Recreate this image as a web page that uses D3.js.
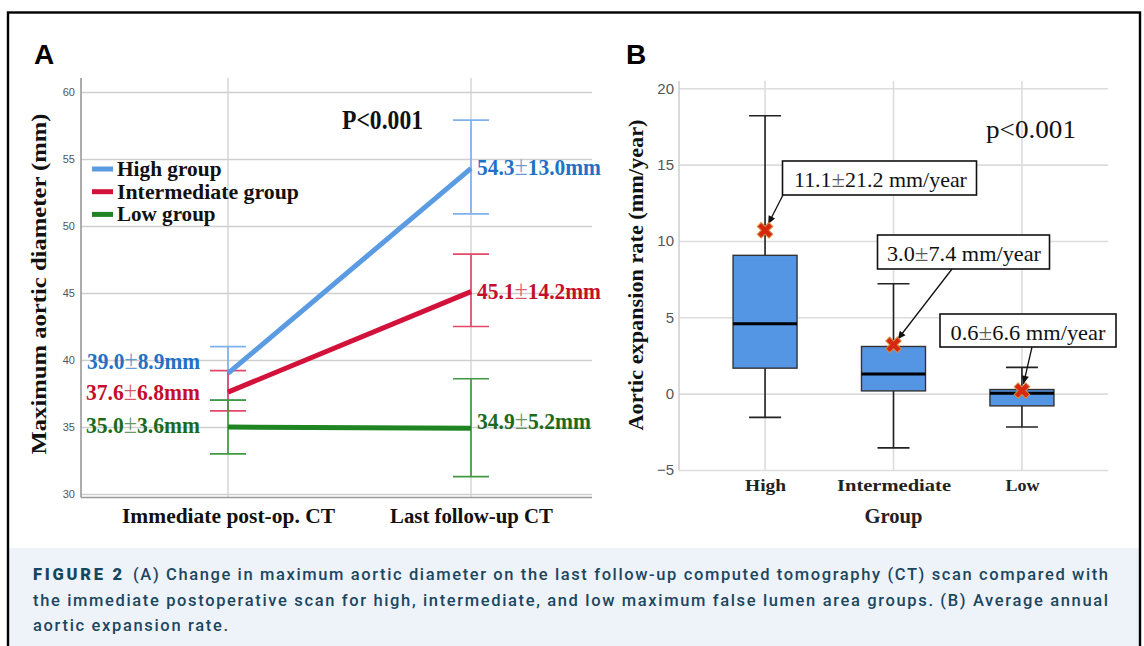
<!DOCTYPE html>
<html>
<head>
<meta charset="utf-8">
<script src="https://cdnjs.cloudflare.com/ajax/libs/d3/7.8.5/d3.min.js"></script>
<style>
  body { margin: 0; background: #fff; }
  svg { display: block; }
</style>
</head>
<body>
<svg id="figure" width="1144" height="646"></svg>
<script>
// ---- panel A data : mean diameter with 95% CI ----
var timePoints  = ["Immediate post-op. CT", "Last follow-up CT"];
var seriesNames = ["High group", "Intermediate group", "Low group"];

var highMean  = [39.0, 54.3];
var highLo    = [37.0, 50.9];
var highHi    = [41.0, 57.9];
var highSD    = ["8.9", "13.0"];

var interMean = [37.6, 45.1];
var interLo   = [36.2, 42.5];
var interHi   = [39.2, 47.9];
var interSD   = ["6.8", "14.2"];

var lowMean   = [35.0, 34.9];
var lowLo     = [33.0, 31.3];
var lowHi     = [37.0, 38.6];
var lowSD     = ["3.6", "5.2"];

var diamTicks = [30, 35, 40, 45, 50, 55, 60];

// ---- panel B data : annual expansion rate boxplot ----
var groups      = ["High", "Intermediate", "Low"];
var whiskerLow  = [-1.55, -3.55, -2.18];
var quart1      = [1.67, 0.18, -0.80];
var medians     = [4.58, 1.29, 0.03];
var quart3      = [9.06, 3.09, 0.27];
var whiskerHigh = [18.2, 7.2, 1.72];
var meanMarks   = [10.7, 3.2, 0.2];
var rateMean    = ["11.1", "3.0", "0.6"];
var rateSD      = ["21.2", "7.4", "6.6"];
var rateTicks   = [-5, 0, 5, 10, 15, 20];


var SERIF = "'Liberation Serif', 'Times New Roman', serif";
var SANS  = "'Liberation Sans', Arial, sans-serif";

var svg = d3.select("#figure");


function drawFrame()
{
  svg.append("rect")
     .attr("x", 0).attr("y", 0).attr("width", 1144).attr("height", 646)
     .attr("fill", "#fff");

  svg.append("rect")
     .attr("x", 9).attr("y", 548).attr("width", 1130).attr("height", 100)
     .attr("fill", "#eef3fa");

  svg.append("rect")
     .attr("x", 8).attr("y", 12.5).attr("width", 1132).attr("height", 660)
     .attr("fill", "none")
     .attr("stroke", "#000")
     .attr("stroke-width", 2.4);

  var cap = svg.append("g")
     .attr("font-family", "Roboto, 'Liberation Sans', sans-serif")
     .attr("font-weight", 500)
     .attr("font-size", 16.5)
     .attr("fill", "#1b4660");

  cap.append("text")
     .attr("x", 33).attr("y", 580)
     .attr("font-weight", 900)
     .attr("fill", "#15465f")
     .attr("textLength", 89).attr("lengthAdjust", "spacing")
     .text("FIGURE 2");

  cap.append("text")
     .attr("x", 133).attr("y", 580)
     .attr("textLength", 975).attr("lengthAdjust", "spacing")
     .text("(A) Change in maximum aortic diameter on the last follow-up computed tomography (CT) scan compared with");

  cap.append("text")
     .attr("x", 33).attr("y", 606)
     .attr("textLength", 1075).attr("lengthAdjust", "spacing")
     .text("the immediate postoperative scan for high, intermediate, and low maximum false lumen area groups. (B) Average annual");

  cap.append("text")
     .attr("x", 33).attr("y", 631)
     .attr("textLength", 195).attr("lengthAdjust", "spacing")
     .text("aortic expansion rate.");

  svg.append("text")
     .attr("x", 34).attr("y", 64)
     .attr("font-family", SANS).attr("font-weight", "bold").attr("font-size", 28)
     .text("A");

  svg.append("text")
     .attr("x", 626).attr("y", 64)
     .attr("font-family", SANS).attr("font-weight", "bold").attr("font-size", 28)
     .text("B");
}


// mean ± sd label, squeezed sideways to the width seen in the figure
function labelText(g, x, y, mean, sd, unit, color, len, anchor, size, weight)
{
  var t = g.append("text")
     .attr("font-family", SERIF)
     .attr("font-size", size)
     .attr("font-weight", weight)
     .attr("fill", color)
     .attr("text-anchor", anchor);
  t.append("tspan").text(mean);
  t.append("tspan")
     .attr("font-weight", "normal")
     .attr("font-size", size * 1.12)
     .attr("fill-opacity", 0.7)
     .text("\u00b1");
  t.append("tspan").text(sd + unit);

  var natural = t.node().getComputedTextLength();
  var sx = natural > 0 ? len / natural : 1;
  t.attr("transform", "translate(" + x + "," + y + ") scale(" + sx + ",1)");
  return t;
}


function drawPanelA()
{
  var left = 81, right = 592, top = 78, bottom = 497.5;

  var y = d3.scaleLinear().domain([30, 60]).range([494, 92]);
  var x = d3.scalePoint().domain(timePoints).range([228, 471]);

  var g = svg.append("g");

  // horizontal grid + tick labels
  var yAxis = g.append("g")
     .attr("transform", "translate(" + left + ",0)")
     .call(d3.axisLeft(y).tickValues(diamTicks).tickSize(-(right - left)).tickPadding(6));
  yAxis.select(".domain").remove();
  yAxis.selectAll("line").attr("stroke", "#cfcfcf").attr("stroke-width", 1.6);
  yAxis.selectAll("text")
     .attr("font-family", "'Liberation Sans Narrow', 'Liberation Sans', Arial, sans-serif")
     .attr("font-size", 11).attr("fill", "#555");

  // vertical grid at time points
  g.selectAll(".vgrid")
     .data(timePoints)
     .enter().append("line")
     .attr("x1", function(d) { return x(d); })
     .attr("x2", function(d) { return x(d); })
     .attr("y1", top).attr("y2", bottom)
     .attr("stroke", "#cfcfcf").attr("stroke-width", 1.3);

  // axis lines
  g.append("line")
     .attr("x1", left).attr("x2", left).attr("y1", top).attr("y2", bottom)
     .attr("stroke", "#999").attr("stroke-width", 1.6);
  g.append("line")
     .attr("x1", left).attr("x2", right).attr("y1", bottom).attr("y2", bottom)
     .attr("stroke", "#999").attr("stroke-width", 1.6);

  // x category labels
  var catLen = [213, 163];
  var xAxis = g.append("g")
     .attr("transform", "translate(0," + bottom + ")")
     .call(d3.axisBottom(x).tickSize(0).tickPadding(0));
  xAxis.select(".domain").remove();
  xAxis.selectAll("text")
     .attr("dy", 0).attr("y", 25)
     .attr("font-family", SERIF).attr("font-weight", "bold").attr("font-size", 21)
     .attr("fill", "#111")
     .attr("textLength", function(d, i) { return catLen[i]; })
     .attr("lengthAdjust", "spacingAndGlyphs");

  // axis title
  g.append("text")
     .attr("transform", "translate(46,284) rotate(-90)")
     .attr("text-anchor", "middle")
     .attr("font-family", SERIF).attr("font-weight", "bold").attr("font-size", 22)
     .attr("fill", "#111")
     .attr("textLength", 341).attr("lengthAdjust", "spacingAndGlyphs")
     .text("Maximum aortic diameter (mm)");

  var series = [
    { name: seriesNames[0], mean: highMean,  lo: highLo,  hi: highHi,  sd: highSD,
      line: "#5a9be2", bar: "#7eb2ec", text: "#1f72c6", lenL: 113, lenR: 124, dyL: -4, dyR: 7 },
    { name: seriesNames[1], mean: interMean, lo: interLo, hi: interHi, sd: interSD,
      line: "#d3123c", bar: "#e04a68", text: "#c40f2c", lenL: 114, lenR: 124, dyL: 8, dyR: 7 },
    { name: seriesNames[2], mean: lowMean,   lo: lowLo,   hi: lowHi,   sd: lowSD,
      line: "#1f8422", bar: "#3f9a42", text: "#1b6b1e", lenL: 114, lenR: 114, dyL: 6, dyR: 1 }
  ];

  var capHalf = 18;

  // error bars
  series.forEach(function(s) {
    var eg = g.append("g").attr("stroke", s.bar).attr("stroke-width", 1.7);
    timePoints.forEach(function(t, i) {
      eg.append("line")
         .attr("x1", x(t)).attr("x2", x(t))
         .attr("y1", y(s.lo[i])).attr("y2", y(s.hi[i]));
      eg.append("line")
         .attr("x1", x(t) - capHalf).attr("x2", x(t) + capHalf)
         .attr("y1", y(s.lo[i])).attr("y2", y(s.lo[i]));
      eg.append("line")
         .attr("x1", x(t) - capHalf).attr("x2", x(t) + capHalf)
         .attr("y1", y(s.hi[i])).attr("y2", y(s.hi[i]));
    });
  });

  // mean lines
  var line = d3.line()
     .x(function(d, i) { return x(timePoints[i]); })
     .y(function(d) { return y(d); });

  series.slice().reverse().forEach(function(s) {
    g.append("path")
       .datum(s.mean)
       .attr("fill", "none")
       .attr("stroke", s.line)
       .attr("stroke-width", 5)
       .attr("d", line);
  });

  // value labels
  series.forEach(function(s) {
    labelText(g, 200, y(s.mean[0]) + s.dyL, s.mean[0].toFixed(1), s.sd[0], "mm",
              s.text, s.lenL, "end", 24, "bold");
    labelText(g, 477, y(s.mean[1]) + s.dyR, s.mean[1].toFixed(1), s.sd[1], "mm",
              s.text, s.lenR, "start", 24, "bold");
  });

  // legend
  var legLen = [104.5, 182, 98.6];
  var leg = g.selectAll(".leg")
     .data(series)
     .enter().append("g")
     .attr("transform", function(d, i) { return "translate(92," + (169 + i * 22.7) + ")"; });
  leg.append("line")
     .attr("x1", 0).attr("x2", 21).attr("y1", 0).attr("y2", 0)
     .attr("stroke", function(d) { return d.line; })
     .attr("stroke-width", 5);
  leg.append("text")
     .attr("x", 25).attr("y", 7)
     .attr("font-family", SERIF).attr("font-weight", "bold").attr("font-size", 22)
     .attr("fill", "#111")
     .attr("textLength", function(d, i) { return legLen[i]; })
     .attr("lengthAdjust", "spacingAndGlyphs")
     .text(function(d) { return d.name; });

  g.append("text")
     .attr("x", 342).attr("y", 129)
     .attr("font-family", SERIF).attr("font-weight", "bold").attr("font-size", 27)
     .attr("fill", "#111")
     .attr("textLength", 81).attr("lengthAdjust", "spacingAndGlyphs")
     .text("P<0.001");
}


function drawPanelB()
{
  var left = 679, right = 1108, top = 81, bottom = 470;

  var y = d3.scaleLinear().domain([-5, 20]).range([470, 88.3]);
  var x = d3.scalePoint().domain(groups).range([left, right]).padding(0.67);

  var g = svg.append("g");

  var yAxis = g.append("g")
     .attr("transform", "translate(" + left + ",0)")
     .call(d3.axisLeft(y).tickValues(rateTicks).tickSize(-(right - left)).tickPadding(5));
  yAxis.select(".domain").remove();
  yAxis.selectAll("line").attr("stroke", "#dcdcdc").attr("stroke-width", 1.6);
  yAxis.selectAll("text")
     .attr("font-family", SANS).attr("font-size", 15).attr("fill", "#555");

  g.selectAll(".vgrid")
     .data(groups)
     .enter().append("line")
     .attr("x1", function(d) { return x(d); })
     .attr("x2", function(d) { return x(d); })
     .attr("y1", top).attr("y2", bottom)
     .attr("stroke", "#dcdcdc").attr("stroke-width", 1.6);

  g.append("line")
     .attr("x1", left).attr("x2", left).attr("y1", top).attr("y2", bottom)
     .attr("stroke", "#d0d0d0").attr("stroke-width", 1.6);

  var catLen = [41, 114, 34];
  var xAxis = g.append("g")
     .attr("transform", "translate(0," + bottom + ")")
     .call(d3.axisBottom(x).tickSize(0).tickPadding(0));
  xAxis.select(".domain").remove();
  xAxis.selectAll("text")
     .attr("dy", 0).attr("y", 21)
     .attr("font-family", SERIF).attr("font-weight", "bold").attr("font-size", 17)
     .attr("fill", "#222")
     .attr("textLength", function(d, i) { return catLen[i]; })
     .attr("lengthAdjust", "spacingAndGlyphs");

  g.append("text")
     .attr("x", x("Intermediate")).attr("y", 523)
     .attr("text-anchor", "middle")
     .attr("font-family", SERIF).attr("font-weight", "bold").attr("font-size", 20)
     .attr("fill", "#222")
     .attr("textLength", 58).attr("lengthAdjust", "spacingAndGlyphs")
     .text("Group");

  g.append("text")
     .attr("transform", "translate(643,275) rotate(-90)")
     .attr("text-anchor", "middle")
     .attr("font-family", SERIF).attr("font-weight", "bold").attr("font-size", 20)
     .attr("fill", "#111")
     .attr("textLength", 311).attr("lengthAdjust", "spacingAndGlyphs")
     .text("Aortic expansion rate (mm/year)");

  var boxHalf = 32, capHalf = 16;

  var boxes = g.selectAll(".box")
     .data(groups)
     .enter().append("g")
     .attr("transform", function(d) { return "translate(" + x(d) + ",0)"; });

  boxes.append("line")
     .attr("x1", 0).attr("x2", 0)
     .attr("y1", function(d, i) { return y(whiskerHigh[i]); })
     .attr("y2", function(d, i) { return y(whiskerLow[i]); })
     .attr("stroke", "#222").attr("stroke-width", 1.6);
  boxes.append("line")
     .attr("x1", -capHalf).attr("x2", capHalf)
     .attr("y1", function(d, i) { return y(whiskerHigh[i]); })
     .attr("y2", function(d, i) { return y(whiskerHigh[i]); })
     .attr("stroke", "#222").attr("stroke-width", 1.6);
  boxes.append("line")
     .attr("x1", -capHalf).attr("x2", capHalf)
     .attr("y1", function(d, i) { return y(whiskerLow[i]); })
     .attr("y2", function(d, i) { return y(whiskerLow[i]); })
     .attr("stroke", "#222").attr("stroke-width", 1.6);
  boxes.append("rect")
     .attr("x", -boxHalf).attr("width", boxHalf * 2)
     .attr("y", function(d, i) { return y(quart3[i]); })
     .attr("height", function(d, i) { return y(quart1[i]) - y(quart3[i]); })
     .attr("fill", "#5596e4")
     .attr("stroke", "#333").attr("stroke-width", 1.4);
  boxes.append("line")
     .attr("x1", -boxHalf).attr("x2", boxHalf)
     .attr("y1", function(d, i) { return y(medians[i]); })
     .attr("y2", function(d, i) { return y(medians[i]); })
     .attr("stroke", "#000").attr("stroke-width", 3);

  // annotation boxes (layout only)
  var notes = [
    { x: 782.5, y: 161, w: 194, h: 34, tx: 794,   len: 173, sx: 783,  sy: 195 },
    { x: 877.5, y: 235, w: 172, h: 34, tx: 887,   len: 154, sx: 952,  sy: 269 },
    { x: 940,   y: 314, w: 176, h: 33, tx: 950.5, len: 155, sx: 1032, sy: 347 }
  ];

  svg.append("defs").append("marker")
     .attr("id", "arrow")
     .attr("viewBox", "0 0 10 10")
     .attr("refX", 10).attr("refY", 5)
     .attr("markerWidth", 9).attr("markerHeight", 8)
     .attr("markerUnits", "userSpaceOnUse")
     .attr("orient", "auto")
     .append("path")
     .attr("d", "M0,0.5 L10,5 L0,9.5 Z")
     .attr("fill", "#111");

  groups.forEach(function(grp, i) {
    var n = notes[i];
    var mx = x(grp), my = y(meanMarks[i]);
    var dx = n.sx - mx, dy = n.sy - my;
    var dl = Math.sqrt(dx * dx + dy * dy);
    g.append("line")
       .attr("x1", n.sx).attr("y1", n.sy)
       .attr("x2", mx + dx / dl * 7).attr("y2", my + dy / dl * 7)
       .attr("stroke", "#111").attr("stroke-width", 1.3)
       .attr("marker-end", "url(#arrow)");
  });

  // mean markers
  g.selectAll(".meanmark")
     .data(groups)
     .enter().append("path")
     .attr("transform", function(d, i) { return "translate(" + x(d) + "," + y(meanMarks[i]) + ") rotate(45)"; })
     .attr("d", d3.symbol().type(d3.symbolCross).size(150))
     .attr("fill", "#d42810")
     .attr("stroke", "#d98a3c").attr("stroke-width", 1);

  groups.forEach(function(grp, i) {
    var n = notes[i];
    g.append("rect")
       .attr("x", n.x).attr("y", n.y).attr("width", n.w).attr("height", n.h)
       .attr("fill", "#fff").attr("stroke", "#111").attr("stroke-width", 1.6);
    labelText(g, n.tx, n.y + 25.5, rateMean[i], rateSD[i], " mm/year",
              "#111", n.len, "start", 21, "normal");
  });

  g.append("text")
     .attr("x", 986).attr("y", 138)
     .attr("font-family", SERIF).attr("font-size", 26)
     .attr("fill", "#111")
     .attr("textLength", 90).attr("lengthAdjust", "spacingAndGlyphs")
     .text("p<0.001");
}


drawFrame();
drawPanelA();
drawPanelB();
</script>
</body>
</html>
